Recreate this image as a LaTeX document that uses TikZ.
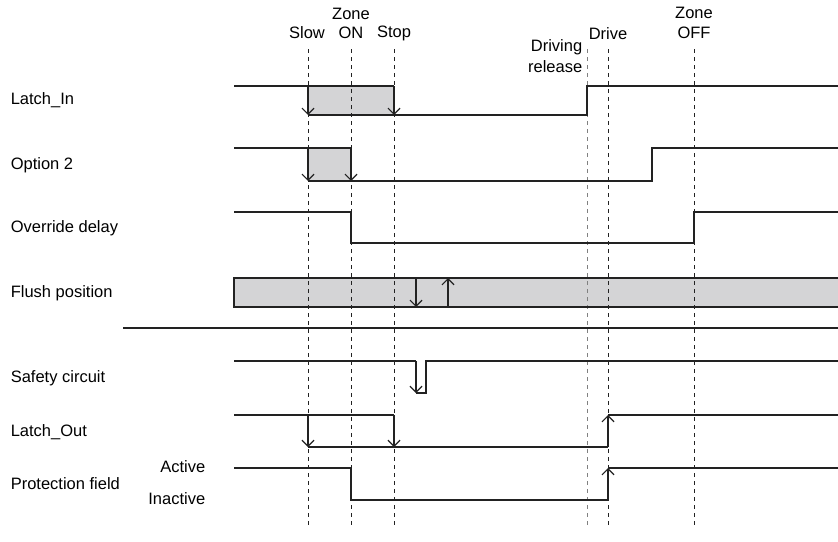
\documentclass[tikz,border=0pt]{standalone}
\usepackage{fontspec}
\setmainfont{Liberation Sans}
\usetikzlibrary{arrows.meta}
\definecolor{fillgray}{RGB}{212,212,214}
\definecolor{linegray}{RGB}{34,34,34}
\newcommand{\timemark}[2]{\draw[dash pattern=on 4pt off 4pt,line width=0.9pt,#2] (#1,49)--(#1,526);}
\newcommand{\signame}[3]{\node[font=\fontsize{16.5}{19}\selectfont,anchor=west,inner sep=0pt] (#1) at (10,#2) {#3};}
\newcommand{\toptext}[4]{\node[font=\fontsize{16.5}{19}\selectfont,inner sep=0pt] (#1) at (#2,#3) {#4};}

\begin{document}
\begin{tikzpicture}[x=1pt,y=-1pt,line width=1.6pt,draw=linegray,
  edgetip/.style={-{Straight Barb[length=6pt,width=12pt,line width=1.2pt]}}]
\useasboundingbox (0,0) rectangle (838,541);
% grey areas
\fill[fillgray] (308,86) rectangle (394,115);
\fill[fillgray] (308,148) rectangle (351,181);
\fill[fillgray] (234,278) rectangle (838,307);
% time marks
\timemark{308}{}
\timemark{351}{}
\timemark{394}{}
\timemark{587}{gray}
\timemark{608}{}
\timemark{694}{}
\toptext{zon1}{351}{14}{Zone}
\toptext{slow}{307}{33}{Slow}
\toptext{zon2}{351}{33}{ON}
\toptext{stop}{394}{33}{Stop}
\node[font=\fontsize{16.5}{19}\selectfont,anchor=east,inner sep=0pt] (drel1) at (583,47) {Driving};
\node[font=\fontsize{16.5}{19}\selectfont,anchor=east,inner sep=0pt] (drel2) at (583,67) {release};
\toptext{drive}{608}{34}{Drive}
\toptext{zoff1}{694}{13}{Zone}
\toptext{zoff2}{694}{33}{OFF}
% signal names
\signame{lin}{100}{Latch\_In}
\signame{opt}{165}{Option 2}
\signame{ovr}{228}{Override delay}
\signame{flp}{293}{Flush position}
\signame{saf}{378}{Safety circuit}
\signame{lout}{432}{Latch\_Out}
\signame{prf}{484}{Protection field}
\node[font=\fontsize{16.5}{19}\selectfont,anchor=east,inner sep=0pt] (act) at (206,467) {Active};
\node[font=\fontsize{16.5}{19}\selectfont,anchor=east,inner sep=0pt] (inact) at (206,499) {Inactive};
% Latch_In
\draw (234,86)--(394,86);
\draw[edgetip] (308,86)--(308,115);
\draw[edgetip] (394,86)--(394,115);
\draw (308,115)--(587,115)--(587,86)--(838,86);
% Option 2
\draw (234,148)--(351,148);
\draw[edgetip] (308,148)--(308,181);
\draw[edgetip] (351,148)--(351,181);
\draw (308,181)--(652,181)--(652,148)--(838,148);
% Override delay
\draw (234,212)--(351,212)--(351,243)--(694,243)--(694,212)--(838,212);
% Flush position
\draw (838,278)--(234,278)--(234,307)--(838,307);
\draw[edgetip] (416,278)--(416,307);
\draw[edgetip] (448,307)--(448,278);
% separator
\draw[line width=2.6pt] (123,328)--(838,328);
% Safety circuit
\draw (234,361)--(416,361);
\draw[edgetip] (416,361)--(416,393);
\draw (416,393)--(426,393)--(426,361)--(838,361);
% Latch_Out
\draw (234,415)--(394,415);
\draw[edgetip] (308,415)--(308,447);
\draw[edgetip] (394,415)--(394,447);
\draw (308,447)--(608,447);
\draw[edgetip] (608,447)--(608,415);
\draw (608,415)--(838,415);
% Protection field
\draw (234,468)--(351,468)--(351,500)--(608,500);
\draw[edgetip] (608,500)--(608,468);
\draw (608,468)--(838,468);
\end{tikzpicture}
\end{document}
